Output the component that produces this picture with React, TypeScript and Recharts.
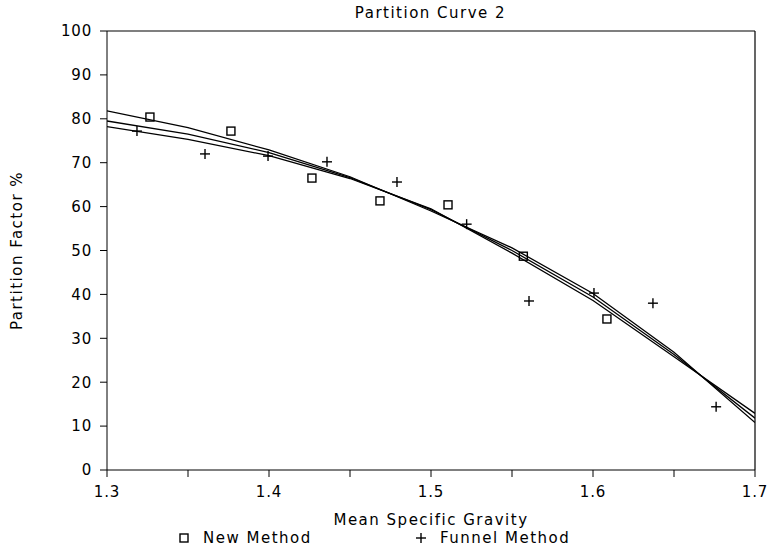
import React from 'react';
import { ComposedChart, Line, Scatter, XAxis, YAxis, ReferenceLine } from 'recharts';

const curveX = [1.3, 1.35, 1.4, 1.45, 1.5, 1.55, 1.6, 1.65, 1.7];
const fitA = [81.8, 78.0, 72.9, 66.8, 59.0, 50.6, 40.2, 26.8, 10.8];
const fitB = [79.5, 76.5, 72.3, 66.6, 59.3, 50.0, 39.4, 26.3, 11.8];
const fitC = [78.2, 75.3, 71.6, 66.4, 59.5, 49.4, 38.6, 25.8, 12.9];

const newX = [1.3265, 1.3765, 1.4265, 1.4685, 1.5105, 1.557, 1.6086];
const newY = [80.4, 77.2, 66.5, 61.3, 60.4, 48.7, 34.4];

const funnelX = [1.3185, 1.3605, 1.3994, 1.4358, 1.479, 1.522, 1.5605, 1.6006, 1.637, 1.676];
const funnelY = [77.2, 72.0, 71.5, 70.2, 65.6, 56.0, 38.5, 40.3, 38.0, 14.4];

const xTicks = [1.3, 1.35, 1.4, 1.45, 1.5, 1.55, 1.6, 1.65, 1.7];
const yTicks = [0, 10, 20, 30, 40, 50, 60, 70, 80, 90, 100];

const title = 'Partition Curve 2';
const xLabel = 'Mean Specific Gravity';
const yLabel = 'Partition Factor %';
const seriesNames = ['New Method', 'Funnel Method'];

const toPts = (xs: number[], ys: number[]) => xs.map((x, i) => ({ x, y: ys[i] }));
const curveA = toPts(curveX, fitA);
const curveB = toPts(curveX, fitB);
const curveC = toPts(curveX, fitC);
const newData = toPts(newX, newY);
const funnelData = toPts(funnelX, funnelY);

const FONT = '"DejaVu Sans", sans-serif';
const tickStyle = { fontFamily: FONT, fontSize: 15, fill: '#000', letterSpacing: 0.8 };
const labelStyle = { fontFamily: FONT, fontSize: 15, fill: '#000', letterSpacing: 1.5 };

const SquareShape = (props: any) => {
  const { cx, cy } = props;
  if (cx == null || cy == null) return null;
  return <rect x={cx - 4} y={cy - 4} width={8} height={8} fill="none" stroke="#000" strokeWidth={1.4} />;
};

const CrossShape = (props: any) => {
  const { cx, cy } = props;
  if (cx == null || cy == null) return null;
  return (
    <g stroke="#000" strokeWidth={1.4}>
      <line x1={cx - 5} y1={cy} x2={cx + 5} y2={cy} />
      <line x1={cx} y1={cy - 5} x2={cx} y2={cy + 5} />
    </g>
  );
};

const fmtX = (v: number) => (Math.abs(v * 10 - Math.round(v * 10)) < 1e-6 ? v.toFixed(1) : '');

export default function App() {
  return (
    <div style={{ position: 'absolute', left: 0, top: 0, width: 767, height: 551, background: '#fff', fontFamily: FONT }}>
      <ComposedChart width={767} height={551} margin={{ top: 31, right: 12, bottom: 21, left: 17 }}>
        <XAxis
          type="number"
          dataKey="x"
          domain={[1.3, 1.7]}
          ticks={xTicks}
          tickFormatter={fmtX}
          allowDataOverflow
          height={60}
          tickSize={7}
          tickMargin={9}
          stroke="#000"
          tick={tickStyle}
          label={{ value: xLabel, position: 'insideBottom', offset: 5, style: labelStyle }}
        />
        <YAxis
          type="number"
          dataKey="y"
          domain={[0, 100]}
          ticks={yTicks}
          allowDataOverflow
          width={90}
          tickSize={7}
          tickMargin={8}
          stroke="#000"
          tick={tickStyle}
          label={{ value: yLabel, angle: -90, position: 'insideLeft', offset: 0, style: { ...labelStyle, textAnchor: 'middle' } }}
        />
        <ReferenceLine y={100} stroke="#000" strokeWidth={1.2} ifOverflow="extendDomain" />
        <ReferenceLine x={1.7} stroke="#000" strokeWidth={1.2} ifOverflow="extendDomain" />
        <Line data={curveA} dataKey="y" type="linear" stroke="#000" strokeWidth={1.3} dot={false} isAnimationActive={false} />
        <Line data={curveB} dataKey="y" type="linear" stroke="#000" strokeWidth={1.3} dot={false} isAnimationActive={false} />
        <Line data={curveC} dataKey="y" type="linear" stroke="#000" strokeWidth={1.3} dot={false} isAnimationActive={false} />
        <Scatter data={newData} dataKey="y" name={seriesNames[0]} shape={<SquareShape />} isAnimationActive={false} />
        <Scatter data={funnelData} dataKey="y" name={seriesNames[1]} shape={<CrossShape />} isAnimationActive={false} />
      </ComposedChart>
      <div style={{ position: 'absolute', left: 0, width: 767, top: 4, textAlign: 'center', fontSize: 15, letterSpacing: 1.5, color: '#000', paddingLeft: 94, boxSizing: 'border-box' }}>
        {title}
      </div>
      <div style={{ position: 'absolute', left: 178, top: 530, fontSize: 15, lineHeight: '16px', letterSpacing: 1.5, color: '#000', display: 'flex', alignItems: 'center', whiteSpace: 'nowrap' }}>
        <svg width={12} height={12} style={{ marginRight: 13 }}>
          <rect x={2} y={2} width={8} height={8} fill="none" stroke="#000" strokeWidth={1.4} />
        </svg>
        <span style={{ width: 212 }}>{seriesNames[0]}</span>
        <svg width={12} height={12} style={{ marginRight: 13 }}>
          <line x1={1} y1={6} x2={11} y2={6} stroke="#000" strokeWidth={1.4} />
          <line x1={6} y1={1} x2={6} y2={11} stroke="#000" strokeWidth={1.4} />
        </svg>
        <span>{seriesNames[1]}</span>
      </div>
    </div>
  );
}
